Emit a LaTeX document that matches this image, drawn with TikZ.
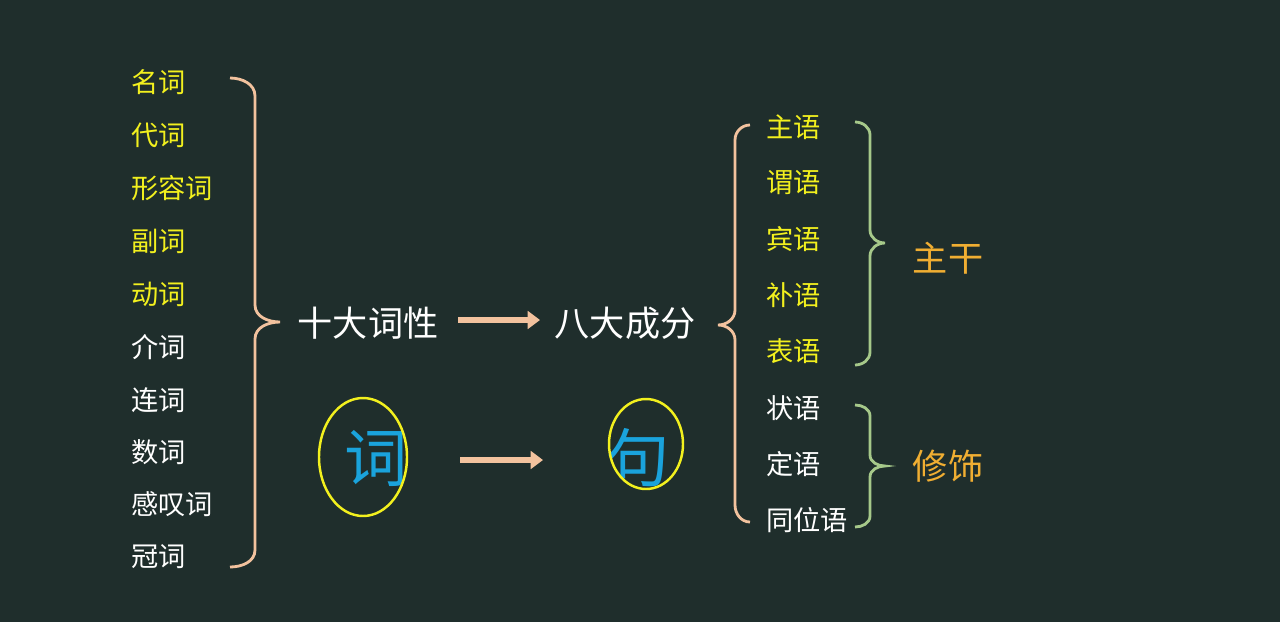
\documentclass[tikz,border=0pt]{standalone}
\usepackage{fontspec}
\setmainfont{Noto Sans CJK SC}
\usetikzlibrary{positioning,arrows.meta}
\definecolor{bg}{HTML}{1F2E2C}
\definecolor{wordyellow}{HTML}{F2F01E}
\definecolor{peach}{HTML}{F2C29E}
\definecolor{leafgreen}{HTML}{A6C98A}
\definecolor{titleorange}{HTML}{F0AE32}
\definecolor{wordblue}{HTML}{1AA3DC}
\begin{document}
\begin{tikzpicture}[x=0.02cm,y=-0.02cm,
  item/.style={anchor=west,inner sep=0pt,font=\fontsize{15.5}{18}\selectfont},
  hot/.style={item,text=wordyellow},
  cold/.style={item,text=white},
  big/.style={text=white,font=\fontsize{20}{22}\selectfont},
  group/.style={text=titleorange,font=\fontsize{20}{22}\selectfont},
  glyph/.style={text=wordblue,font=\fontsize{36}{40}\selectfont},
  brack/.style={draw=peach,line width=1.6pt},
  gbrack/.style={draw=leafgreen,line width=1.6pt},
  flow/.style={draw=peach,line width=3.5pt,-{Triangle[length=7pt,width=10pt]}}]
\fill[bg] (0,0) rectangle (1280,622);
% left: ten word classes
\node[hot] (w1) at (131,82) {名词};
\node[hot] (w2) at (131,135) {代词};
\node[hot] (w3) at (131,188) {形容词};
\node[hot] (w4) at (131,241) {副词};
\node[hot] (w5) at (131,294) {动词};
\node[cold] (w6) at (131,347) {介词};
\node[cold] (w7) at (131,400) {连词};
\node[cold] (w8) at (131,452) {数词};
\node[cold] (w9) at (131,504) {感叹词};
\node[cold] (w10) at (131,557) {冠词};
\draw[brack] (230,78) to[out=0,in=90] (255,96) -- (255,305) to[out=270,in=180] (280,322)
  to[out=180,in=90] (255,339) -- (255,550) to[out=270,in=0] (230,567);
% middle
\node[big] (ten) at (368,323) {十大词性};
\node[big] (eight) at (625,323) {八大成分};
\draw[flow] (458,320) coordinate (a1) -- (540,320) coordinate (a2);
\node[glyph] (ci) at (376,458) {词};
\node[glyph] (ju) at (638,458) {句};
\draw[draw=wordyellow,line width=1.4pt] (363,457) ellipse [x radius=44,y radius=59];
\draw[draw=wordyellow,line width=1.4pt] (646,444) ellipse [x radius=37,y radius=45];
\draw[flow] (460,460) coordinate (b1) -- (543,460) coordinate (b2);
% right: eight sentence parts
\draw[brack] (750,125) to[out=180,in=90] (735,140) -- (735,310) to[out=270,in=0] (718,325)
  to[out=0,in=90] (735,340) -- (735,505) to[out=270,in=180] (750,522);
\node[hot] (p1) at (766,127) {主语};
\node[hot] (p2) at (766,183) {谓语};
\node[hot] (p3) at (766,239) {宾语};
\node[hot] (p4) at (766,295) {补语};
\node[hot] (p5) at (766,351) {表语};
\node[cold] (p6) at (766,408) {状语};
\node[cold] (p7) at (766,464) {定语};
\node[cold] (p8) at (766,520) {同位语};
\draw[gbrack] (855,122) to[out=0,in=90] (870,135) -- (870,230) to[out=270,in=180] (885,243)
  to[out=180,in=90] (870,256) -- (870,352) to[out=270,in=0] (855,365);
\draw[gbrack] (855,405) to[out=0,in=90] (870,416) -- (870,455) to[out=270,in=180] (885,466)
  to[out=180,in=90] (870,477) -- (870,516) to[out=270,in=0] (855,527);
\node[group] (trunk) at (948,258) {主干};
\node[group] (adorn) at (948,466) {修饰};
\end{tikzpicture}
\end{document}
